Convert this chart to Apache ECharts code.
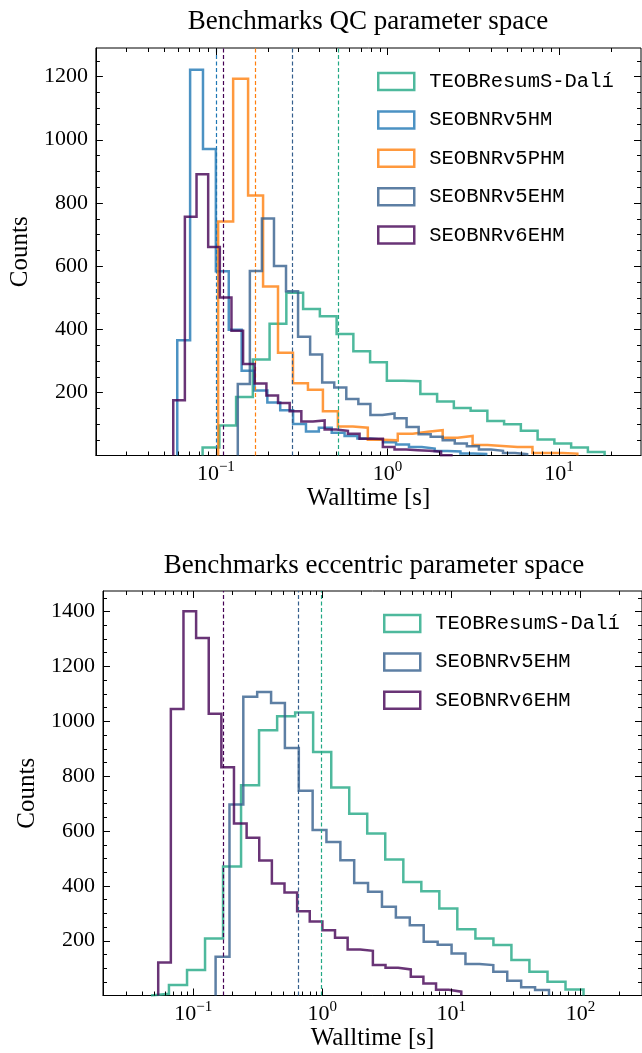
<!DOCTYPE html>
<html><head><meta charset="utf-8">
<script src="https://cdn.jsdelivr.net/npm/echarts@6/dist/echarts.min.js"></script>
<style>html,body{margin:0;padding:0;background:#fff}#c{width:642px;height:1053px}</style>
</head><body><div id="c"></div>
<script>
// ---------------- data ----------------
const namesTop = ['TEOBResumS-Dalí', 'SEOBNRv5HM', 'SEOBNRv5PHM', 'SEOBNRv5EHM', 'SEOBNRv6EHM'];
const namesBottom = ['TEOBResumS-Dalí', 'SEOBNRv5EHM', 'SEOBNRv6EHM'];

// QC parameter space: bin edges [s] and counts
const teobQcEdges = [0.0837,0.1048,0.1312,0.1642,0.2056,0.2574,0.3224,0.4036,0.5053,0.6326,0.7920,0.9915,1.241,1.554,1.946,2.436,3.050,3.818,4.780,5.985,7.493,9.383,11.75,14.71,18.41];
const teobQcCounts = [25,95,185,304,417,515,464,441,385,330,295,237,235,195,171,150,142,109,99,78,51,38,25,11];
const v5hmQcEdges = [0.05957,0.07079,0.08414,0.1,0.1189,0.1413,0.1679,0.1995,0.2371,0.2818,0.3350,0.3981,0.4732,0.5623,0.6683,0.7943,0.9441,1.122,1.334,1.585,1.884,2.239,2.661,3.162,3.758];
const v5hmQcCounts = [365,1221,970,583,398,268,206,168,143,100,76,88,72,62,54,50,42,35,27,22,14,13,6,5];
const v5phmQcEdges = [0.1031,0.1261,0.1541,0.1884,0.2302,0.2814,0.3440,0.4205,0.5140,0.6283,0.7681,0.9389,1.148,1.403,1.715,2.097,2.563,3.133,3.828,4.680,5.721,6.993,8.548,10.45,12.77];
const v5phmQcCounts = [741,1193,823,535,325,229,208,140,92,88,50,48,69,75,80,56,62,33,30,27,27,8,8,6];
const v5ehmQcEdges = [0.1342,0.1578,0.1855,0.2181,0.2563,0.3013,0.3542,0.4164,0.4895,0.5754,0.6764,0.7952,0.9348,1.099,1.292,1.519,1.785,2.098,2.466,2.900,3.409,4.007,4.711,5.538,6.510];
const v5ehmQcCounts = [226,584,750,600,520,376,320,231,215,179,163,128,133,118,90,67,59,48,38,29,19,15,8,4];
const v6ehmQcEdges = [0.05645,0.06598,0.07716,0.09021,0.1055,0.1233,0.1441,0.1685,0.1970,0.2303,0.2692,0.3148,0.3680,0.4302,0.5030,0.5880,0.6875,0.8038,0.9397,1.099,1.285,1.502,1.756,2.052,2.399];
const v6ehmQcCounts = [175,756,890,660,500,395,290,228,190,166,140,108,111,82,78,69,53,53,27,19,17,15,12,1];
const mediansQc = [0.519, 0.0989, 0.1747, 0.2841, 0.1065];

// eccentric parameter space
const teobEccEdges = [0.04705,0.06486,0.08957,0.1235,0.1703,0.2348,0.3236,0.4469,0.6163,0.8495,1.173,1.617,2.229,3.074,4.245,5.852,8.068,11.12,15.36,21.18,29.20,40.25,55.59,76.64,105.7];
const teobEccCounts = [6,38,93,208,470,766,967,1018,1031,887,758,662,590,496,414,380,317,241,208,184,129,87,50,22];
const v5ehmEccEdges = [0.1491,0.1910,0.2444,0.3130,0.4012,0.5132,0.6579,0.8418,1.077,1.381,1.767,2.262,2.899,3.716,4.764,6.107,7.832,10.04,12.86,16.50,21.14,27.10,34.74,44.53,57.08];
const v5ehmEccCounts = [141,696,1089,1106,1066,902,746,603,559,493,410,378,323,284,256,196,185,153,115,111,87,54,30,20];
const v6ehmEccEdges = [0.05356,0.06710,0.08405,0.1053,0.1319,0.1652,0.2069,0.2593,0.3248,0.4068,0.5096,0.6384,0.7997,1.002,1.255,1.572,1.969,2.466,3.090,3.871,4.850,6.074,7.610,9.533,11.94];
const v6ehmEccCounts = [120,1044,1400,1303,1027,832,627,575,492,408,375,307,270,238,210,168,163,111,101,95,68,44,21,14];
const mediansEcc = [0.977, 0.6532, 0.1675];

// axis ticks
const yTickLabelsTop = [200, 400, 600, 800, 1000, 1200];
const yTickLabelsBottom = [200, 400, 600, 800, 1000, 1200, 1400];
const xRangeTop = [0.02, 30];
const xRangeBottom = [0.02, 300];
const yMaxTop = 1290;
const yMaxBottom = 1474;

// ---------------- styles ----------------
const colTop = ['#22a884', '#1f77b4', '#ff7f0e', '#355f8d', '#440154'];
const colBottom = ['#22a884', '#355f8d', '#440154'];
const SERIF = 'Liberation Serif';
const MONO = 'Liberation Mono';

function stepPoints(edges, counts) {
  const pts = [[edges[0], 0]];
  for (let i = 0; i < counts.length; i++) {
    pts.push([edges[i], counts[i]]);
    pts.push([edges[i + 1], counts[i]]);
  }
  pts.push([edges[edges.length - 1], 0]);
  return pts;
}

function histSeries(name, edges, counts, color, median, g, z) {
  return {
    type: 'line', name: name, xAxisIndex: g, yAxisIndex: g,
    data: stepPoints(edges, counts),
    symbol: 'none', showSymbol: false, animation: false, z: z,
    lineStyle: { color: color, width: 2.5, opacity: 0.8, join: 'miter' },
    itemStyle: { color: color },
    markLine: {
      silent: true, symbol: ['none', 'none'], animation: false,
      label: { show: false },
      lineStyle: { color: color, width: 1.2, type: [4, 2.5], opacity: 1 },
      data: [{ xAxis: median }]
    }
  };
}

function tickData(xr, ymax, yMajor) {
  const d = [];
  for (let k = -3; k <= 3; k++) {
    for (let m = 1; m <= 9; m++) {
      const v = m * Math.pow(10, k);
      if (v > xr[0] * 1.0001 && v < xr[1] * 0.9999) d.push([v, 0, 0, m === 1 ? 1 : 0]);
    }
  }
  for (let v = 50; v < ymax; v += 50) d.push([xr[0], v, 1, v % yMajor === 0 ? 1 : 0]);
  return d;
}

function renderTicks(params, api) {
  const cs = params.coordSys;
  const kind = api.value(2), major = api.value(3);
  const len = major ? 7 : 4;
  const p = api.coord([api.value(0), api.value(1)]);
  const L = [];
  if (kind === 0) {
    const x = Math.round(p[0]) + 0.5;
    L.push([x, cs.y + cs.height, x, cs.y + cs.height - len]);
    L.push([x, cs.y, x, cs.y + len]);
  } else {
    const y = Math.round(p[1]) + 0.5;
    L.push([cs.x, y, cs.x + len, y]);
    L.push([cs.x + cs.width, y, cs.x + cs.width - len, y]);
  }
  return { type: 'group', children: L.map(l => ({ type: 'line', shape: { x1: l[0], y1: l[1], x2: l[2], y2: l[3] }, style: { stroke: '#000', lineWidth: 1 } })) };
}

const xRich = {
  b: { fontFamily: SERIF, fontSize: 22, color: '#000', verticalAlign: 'bottom', lineHeight: 26 },
  s: { fontFamily: SERIF, fontSize: 15, color: '#000', verticalAlign: 'top', lineHeight: 26 }
};
function xFmt(v) {
  const e = Math.log10(v); const r = Math.round(e);
  if (Math.abs(e - r) > 1e-6) return '';
  return '{b|10}{s|' + (r < 0 ? '\u2212' : '') + Math.abs(r) + '}';
}
function yFmt(list) {
  return function (v) { return list.indexOf(Math.round(v)) >= 0 && Math.abs(v - Math.round(v)) < 1e-6 ? String(Math.round(v)) : ''; };
}

function xAxisCfg(g, xr, gap) {
  return {
    type: 'log', logBase: 10, gridIndex: g, min: xr[0], max: xr[1],
    name: 'Walltime [s]', nameLocation: 'middle', nameGap: gap,
    nameTextStyle: { fontFamily: SERIF, fontSize: 25, color: '#000' },
    axisLine: { show: true, lineStyle: { color: '#000', width: 1 } },
    axisTick: { show: false }, minorTick: { show: false },
    splitLine: { show: false }, minorSplitLine: { show: false },
    axisLabel: { show: true, interval: 0, margin: 4, formatter: xFmt, rich: xRich, showMinLabel: false, showMaxLabel: false }
  };
}
function yAxisCfg(g, ymax, list, gap) {
  return {
    type: 'value', gridIndex: g, min: 0, max: ymax, interval: 200,
    name: 'Counts', nameLocation: 'middle', nameGap: gap, nameRotate: 90,
    nameTextStyle: { fontFamily: SERIF, fontSize: 25, color: '#000' },
    axisLine: { show: true, lineStyle: { color: '#000', width: 1 } },
    axisTick: { show: false }, minorTick: { show: false }, splitLine: { show: false },
    axisLabel: { show: true, margin: 8, formatter: yFmt(list), fontFamily: SERIF, fontSize: 22, color: '#000' }
  };
}

const topData = [
  [teobQcEdges, teobQcCounts], [v5hmQcEdges, v5hmQcCounts], [v5phmQcEdges, v5phmQcCounts],
  [v5ehmQcEdges, v5ehmQcCounts], [v6ehmQcEdges, v6ehmQcCounts]
];
const botData = [[teobEccEdges, teobEccCounts], [v5ehmEccEdges, v5ehmEccCounts], [v6ehmEccEdges, v6ehmEccCounts]];

const series = [];
namesTop.forEach((n, i) => series.push(histSeries(n, topData[i][0], topData[i][1], colTop[i], mediansQc[i], 0, 2 + i)));
namesBottom.forEach((n, i) => series.push(histSeries(n, botData[i][0], botData[i][1], colBottom[i], mediansEcc[i], 1, 2 + i)));
series.push({ type: 'custom', xAxisIndex: 0, yAxisIndex: 0, silent: true, animation: false, z: 20, renderItem: renderTicks, data: tickData(xRangeTop, yMaxTop, 200) });
series.push({ type: 'custom', xAxisIndex: 1, yAxisIndex: 1, silent: true, animation: false, z: 20, renderItem: renderTicks, data: tickData(xRangeBottom, yMaxBottom, 200) });

function legendCfg(names, cols, left, top) {
  return {
    orient: 'vertical', left: left, top: top, padding: 0, itemWidth: 36, itemHeight: 17, itemGap: 17.4,
    icon: 'rect', selectedMode: false,
    data: names.map((n, i) => ({ name: n, icon: 'rect', itemStyle: { color: 'rgba(0,0,0,0)', borderColor: cols[i], borderWidth: 2.5, opacity: 0.8 } })),
    textStyle: { fontFamily: MONO, fontSize: 20.5, color: '#000', padding: [0, 0, 0, 10] }
  };
}

const option = {
  backgroundColor: '#fff',
  animation: false,
  title: [
    { text: 'Benchmarks QC parameter space', left: 368, top: 8, padding: 0, textAlign: 'center', textStyle: { fontFamily: SERIF, fontSize: 27, fontWeight: 'normal', color: '#000' } },
    { text: 'Benchmarks eccentric parameter space', left: 374, top: 552, padding: 0, textAlign: 'center', textStyle: { fontFamily: SERIF, fontSize: 27, fontWeight: 'normal', color: '#000' } }
  ],
  grid: [
    { left: 95.5, top: 48, width: 545.5, height: 407.5, show: true, borderColor: '#000', borderWidth: 1, backgroundColor: 'transparent', containLabel: false },
    { left: 103, top: 591, width: 542, height: 404.5, show: true, borderColor: '#000', borderWidth: 1, backgroundColor: 'transparent', containLabel: false }
  ],
  xAxis: [xAxisCfg(0, xRangeTop, 29), xAxisCfg(1, xRangeBottom, 30)],
  yAxis: [yAxisCfg(0, yMaxTop, yTickLabelsTop, 58), yAxisCfg(1, yMaxBottom, yTickLabelsBottom, 61)],
  legend: [legendCfg(namesTop, colTop, 377, 71), legendCfg(namesBottom, colBottom, 383, 613)],
  series: series
};
const chart = echarts.init(document.getElementById('c'), null, { renderer: 'canvas' });
chart.setOption(option);
</script></body></html>
